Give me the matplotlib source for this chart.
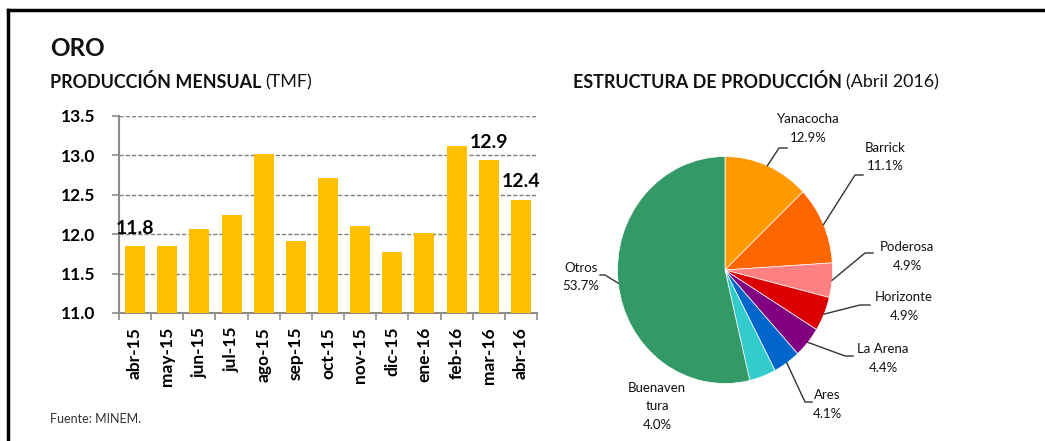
import matplotlib
matplotlib.use("Agg")
import matplotlib.pyplot as plt
from matplotlib.lines import Line2D
from matplotlib import font_manager
import numpy as np

# ---------------- data ----------------
months = ["abr-15", "may-15", "jun-15", "jul-15", "ago-15", "sep-15", "oct-15",
          "nov-15", "dic-15", "ene-16", "feb-16", "mar-16", "abr-16"]
production = [11.85, 11.85, 12.07, 12.24, 13.02, 11.91, 12.71,
              12.10, 11.78, 12.02, 13.12, 12.94, 12.44]
labeled_idx = [0, 11, 12]
yticks = [11.0, 11.5, 12.0, 12.5, 13.0, 13.5]

companies = ["Yanacocha", "Barrick", "Poderosa", "Horizonte", "La Arena", "Ares",
             "Buenaven\ntura", "Otros"]
shares = [12.9, 11.1, 4.9, 4.9, 4.4, 4.1, 4.0, 53.7]
pie_colors = ["#FF9900", "#FF6600", "#FF8080", "#DD0000", "#800080", "#0066CC",
              "#33CCCC", "#339966"]

# ---------------- fonts ----------------
avail = {f.name for f in font_manager.fontManager.ttflist}
main_font = "Lato" if "Lato" in avail else "DejaVu Sans"
narrow_font = main_font
for cand in ["Liberation Sans Narrow", "DejaVu Sans Condensed"]:
    if cand in avail:
        narrow_font = cand
        break
plt.rcParams["font.family"] = [main_font, "DejaVu Sans"]

W, H = 1045, 441
fig = plt.figure(figsize=(W / 100, H / 100), dpi=100)

def fx(px):
    return px / W

def fy(py):
    return 1 - py / H

# frame lines (top and left)
fig.add_artist(Line2D([fx(8), 1.0], [fy(10), fy(10)], color="black", lw=2.5,
                      transform=fig.transFigure))
fig.add_artist(Line2D([fx(8), fx(8)], [fy(10), 0.0], color="black", lw=2.5,
                      transform=fig.transFigure))

# titles
txtc = "#111111"
fig.text(fx(50), fy(49), "ORO", fontsize=17.5, fontweight="bold", color=txtc,
         va="center", ha="left")
t1 = fig.text(fx(50), fy(82), "PRODUCCIÓN MENSUAL ", fontsize=12.9, fontweight="bold",
              color=txtc, va="center", ha="left")
fig.canvas.draw()
bb = t1.get_window_extent()
fig.text(bb.x1 / W, fy(82), "(TMF)", fontsize=12.9, color=txtc, va="center", ha="left")

t2 = fig.text(fx(573), fy(82), "ESTRUCTURA DE PRODUCCIÓN ", fontsize=12.9,
              fontweight="bold", color=txtc, va="center", ha="left")
fig.canvas.draw()
bb2 = t2.get_window_extent()
fig.text(bb2.x1 / W, fy(82), "(Abril 2016)", fontsize=12.9, color=txtc,
         va="center", ha="left")

fig.text(fx(50), fy(419), "Fuente: MINEM.", fontsize=9, color="#333333",
         va="center", ha="left")

# ---------------- bar chart ----------------
ax = fig.add_axes([fx(119), fy(313), fx(537) - fx(119), (313 - 116) / H])
x = np.arange(len(months))
ax.bar(x, production, width=0.62, color="#FFC000", zorder=3)
ax.set_xlim(-0.5, len(months) - 0.5)
ax.set_ylim(yticks[0], yticks[-1])
ax.set_yticks(yticks)
ax.set_yticklabels([f"{v:.1f}" for v in yticks], fontsize=12.5, fontweight="bold",
                   family=[narrow_font, "DejaVu Sans"])
ax.yaxis.grid(True, color="#7f7f7f", linestyle=(0, (3, 1.5)), linewidth=1, zorder=0)
ax.set_axisbelow(True)
for s in ["top", "right"]:
    ax.spines[s].set_visible(False)
for s in ["left", "bottom"]:
    ax.spines[s].set_color("#8c8c8c")
    ax.spines[s].set_linewidth(1.5)
ax.tick_params(axis="y", length=5, color="#8c8c8c", width=1.2, pad=12)
ax.set_xticks(x)
ax.set_xticklabels(months, rotation=90, fontsize=12.5, fontweight="bold",
                   family=[narrow_font, "DejaVu Sans"])
ax.tick_params(axis="x", which="major", length=0, pad=10)
ax.set_xticks(np.arange(len(months) + 1) - 0.5, minor=True)
ax.tick_params(axis="x", which="minor", length=5, color="#8c8c8c", width=1.2)
for i in labeled_idx:
    ax.annotate(f"{production[i]:.1f}", (x[i], production[i]), xytext=(0, 18),
                textcoords="offset pixels", ha="center", va="center",
                fontsize=14, fontweight="bold", family=[narrow_font, "DejaVu Sans"],
                color="black", zorder=5)

# ---------------- pie chart ----------------
cx, cy, rx, ry = 725, 270, 107.5, 113.5
pax = fig.add_axes([fx(cx - rx), fy(cy + ry), 2 * rx / W, 2 * ry / H])
pax.pie(shares, colors=pie_colors, startangle=90, counterclock=False, radius=1,
        wedgeprops=dict(linewidth=0.5, edgecolor="white"))
pax.set_aspect("auto")
pax.set_xlim(-1, 1)
pax.set_ylim(-1, 1)
pax.axis("off")

# label layout: (text center x, first line y, elbow, end) in pixels
label_pos = [
    (808, 121, (779, 148), (787, 148)),
    (885, 150, (855, 175), (863, 175)),
    (907, 249, (865, 253), (873, 253)),
    (904, 299, (860, 305), (870, 305)),
    (883, 351, (845, 356), (853, 356)),
    (827, 397, (805, 402), (812, 402)),
    (657, 390, None, None),
    (581, 270, (605, 275), (600, 275)),
]
fracs = np.array(shares) / sum(shares)
cum = np.concatenate([[0], np.cumsum(fracs)])
fig.canvas.draw()
for i, (name, val) in enumerate(zip(companies, shares)):
    tx, ty, elbow, end = label_pos[i]
    text = f"{name}\n{val:.1f}%"
    fig.text(fx(tx), fy(ty - 8), text, fontsize=9.5, color=txtc, ha="center",
             va="top", linespacing=1.65)
    if elbow is not None:
        ang = np.deg2rad(90 - 360 * (cum[i] + fracs[i] / 2))
        ex, ey = pax.transData.transform((1.0 * np.cos(ang), 1.0 * np.sin(ang)))
        xs = [ex, elbow[0], end[0]]
        ys = [ey, H - elbow[1], H - end[1]]
        fig.add_artist(Line2D(xs, ys, color="#333333", lw=1, transform=None))

fig.savefig("out.png", dpi=100)
